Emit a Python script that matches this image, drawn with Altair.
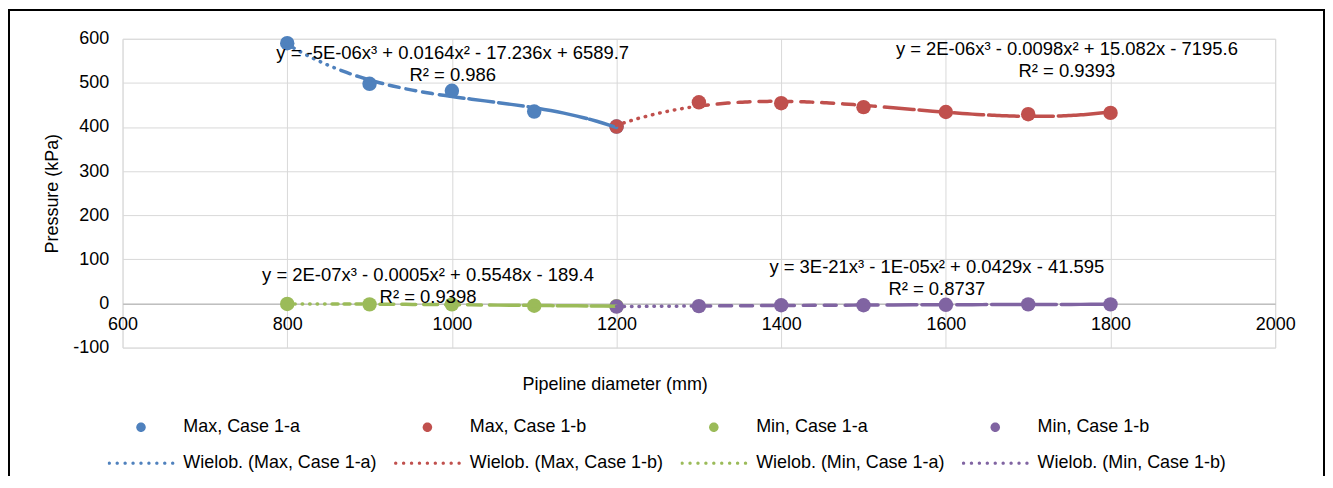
import altair as alt
import pandas as pd

FONT = "Liberation Sans"

# ---- data ----
diam_a = [800, 900, 1000, 1100, 1200]
diam_b = [1200, 1300, 1400, 1500, 1600, 1700, 1800]
max_a = [590, 498, 482, 435, 401]
max_b = [401, 456, 454, 445, 434, 429, 432]
min_a = [-1, -2, -2, -5, -6]
min_b = [-7, -6, -4, -4, -3, -2, -2]

series_names = ["Max, Case 1-a", "Max, Case 1-b", "Min, Case 1-a", "Min, Case 1-b"]
trend_names = ["Wielob. (" + s + ")" for s in series_names]
colors = ["#4F81BD", "#C0504D", "#9BBB59", "#8064A2"]

eq_text = [
    "y = -5E-06x³ + 0.0164x² - 17.236x + 6589.7\nR² = 0.986",
    "y = 2E-06x³ - 0.0098x² + 15.082x - 7195.6\nR² = 0.9393",
    "y = 2E-07x³ - 0.0005x² + 0.5548x - 189.4\nR² = 0.9398",
    "y = 3E-21x³ - 1E-05x² + 0.0429x - 41.595\nR² = 0.8737",
]
eq_x = [1001, 1747, 971, 1589]
eq_y = [568, 577, 65, 83]

x_ticks = [600, 800, 1000, 1200, 1400, 1600, 1800, 2000]
y_ticks = [-100, 0, 100, 200, 300, 400, 500, 600]

# ---- tables ----
rows = []
for name, xs, ys in [(series_names[0], diam_a, max_a), (series_names[1], diam_b, max_b),
                     (series_names[2], diam_a, min_a), (series_names[3], diam_b, min_b)]:
    for xv, yv in zip(xs, ys):
        rows.append({"entry": name, "Diameter": xv, "Pressure": yv})
pts = pd.DataFrame(rows)
eqs = pd.DataFrame({"label": eq_text, "Diameter": eq_x, "Pressure": eq_y})
legend_df = pd.DataFrame({"entry": series_names + trend_names})

# ---- legend symbol paths (style only) ----
def circle_path(cx, r):
    return (f"M{cx - r:.4f},0a{r:.4f},{r:.4f} 0 1,0 {2 * r:.4f},0"
            f"a{r:.4f},{r:.4f} 0 1,0 {-2 * r:.4f},0Z")

dot_path = " ".join(circle_path(-0.95 + i * 0.2375, 0.05) for i in range(9))
big_dot = circle_path(0.0, 0.142)

NUM_EXPR = "datum.value < 0 ? '-' + abs(datum.value) : '' + datum.value"

# ---- scales / axes ----
x_enc = alt.X("Diameter:Q",
              scale=alt.Scale(domain=[600, 2000], nice=False, zero=False),
              axis=alt.Axis(title="Pipeline diameter (mm)", values=x_ticks, offset=-44,
                            labelExpr=NUM_EXPR,
                            grid=True, gridColor="#D9D9D9", gridWidth=1,
                            domainColor="#BFBFBF", domainWidth=1.5, ticks=False,
                            labelPadding=12, labelFlush=False, labelOverlap=False,
                            labelFont=FONT, labelFontSize=18, labelColor="#000000",
                            titleFont=FONT, titleFontSize=18, titleFontWeight="normal",
                            titleColor="#000000", titleX=494, titleY=81,
                            titleBaseline="middle"))
y_enc = alt.Y("Pressure:Q",
              scale=alt.Scale(domain=[-100, 600], nice=False, zero=False),
              axis=alt.Axis(title="Pressure (kPa)", values=y_ticks, grid=True,
                            labelExpr=NUM_EXPR,
                            gridColor="#D9D9D9", gridWidth=1, domain=False, ticks=False,
                            labelPadding=14, labelFlush=False, labelOverlap=False,
                            labelFont=FONT, labelFontSize=18, labelColor="#000000",
                            titleFont=FONT, titleFontSize=18, titleFontWeight="normal",
                            titleColor="#000000", titleX=-70, titleY=155,
                            titleBaseline="middle"))

fill_scale = alt.Scale(domain=series_names + trend_names, range=colors + colors)
shape_scale = alt.Scale(domain=series_names + trend_names, range=[big_dot] * 4 + [dot_path] * 4)
legend_def = alt.Legend(title=None, orient="none", legendX=-15, legendY=379,
                        direction="horizontal", columns=4, symbolSize=4489,
                        clipHeight=22,
                        symbolStrokeWidth=0, labelFont=FONT, labelFontSize=18,
                        labelColor="#000000", labelOffset=9, columnPadding=16.5,
                        rowPadding=14, labelLimit=400, padding=0)

dash_range = [
    [0.5, 7, 0.5, 7, 0.5, 7, 0.5, 7, 0.5, 7, 0.5, 7, 0.5, 7, 0.5, 7, 10, 7, 10, 7, 10, 7,
     10, 7, 10, 7, 10, 7, 25, 5, 25, 5, 25, 5, 60, 3, 400, 0],
    [0.5, 7, 0.5, 7, 0.5, 7, 0.5, 7, 0.5, 7, 0.5, 7, 0.5, 7, 0.5, 7, 0.5, 7, 0.5, 7, 0.5, 7,
     12, 9, 12, 9, 12, 9, 12, 9, 12, 9, 12, 9, 12, 9, 12, 9, 12, 9, 30, 5, 30, 5, 30, 5,
     30, 5, 30, 5, 400, 0],
    [0.5, 7, 0.5, 7, 0.5, 7, 0.5, 7, 0.5, 7, 0.5, 7, 6, 6, 6, 6, 6, 6, 6, 6, 14, 8, 14, 8,
     14, 8, 14, 8, 14, 8, 30, 4, 30, 4, 30, 4, 400, 0],
    [0.5, 7, 0.5, 7, 0.5, 7, 0.5, 7, 0.5, 7, 0.5, 7, 0.5, 7, 0.5, 7, 0.5, 7, 0.5, 7, 0.5, 7,
     12, 9, 12, 9, 12, 9, 12, 9, 12, 9, 12, 9, 12, 9, 12, 9, 12, 9, 30, 5, 30, 5, 30, 5,
     30, 5, 30, 5, 400, 0],
]

# ---- layers ----
points = alt.Chart(pts).mark_circle(size=210, opacity=1).encode(
    x=x_enc, y=y_enc,
    fill=alt.Fill("entry:N", scale=fill_scale, legend=legend_def),
)

trend = alt.Chart(pts).transform_regression(
    "Diameter", "Pressure", method="poly", order=3, groupby=["entry"]
).mark_line(strokeWidth=3.5, strokeCap="round").encode(
    x=x_enc, y=y_enc,
    stroke=alt.Stroke("entry:N", scale=alt.Scale(domain=series_names, range=colors), legend=None),
    strokeDash=alt.StrokeDash("entry:N", scale=alt.Scale(domain=series_names, range=dash_range),
                              legend=None),
)

legend_layer = alt.Chart(legend_df).transform_filter("false").mark_point(
    filled=True, opacity=1).encode(
    fill=alt.Fill("entry:N", scale=fill_scale, legend=legend_def),
    shape=alt.Shape("entry:N", scale=shape_scale, legend=legend_def),
)

labels = alt.Chart(eqs).mark_text(
    font=FONT, fontSize=18.5, lineBreak="\n", lineHeight=22, align="center",
    baseline="middle", color="#000000").encode(
    x=x_enc, y=y_enc, text="label:N")

frame = alt.Chart(pd.DataFrame({"f": [0]})).mark_rect(
    fill="transparent", stroke="#000000", strokeWidth=2).encode(
    x=alt.value(-114), x2=alt.value(1206), y=alt.value(-29), y2=alt.value(470))

chart = alt.layer(points, trend, legend_layer, labels, frame).properties(
    width=1157, height=310,
    padding={"left": 115, "top": 30, "right": 50, "bottom": 128},
    autosize=alt.AutoSizeParams(type="none"),
).configure_view(strokeWidth=0).configure(background="white")

chart.save("out.html", embed_options={"renderer": "svg", "actions": False})
